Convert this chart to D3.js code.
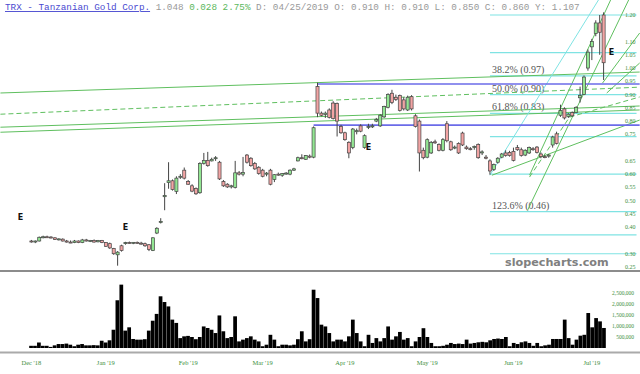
<!DOCTYPE html>
<html lang="en">
<head>
<meta charset="UTF-8">
<title>TRX - Tanzanian Gold Corp.</title>
<script src="https://d3js.org/d3.v7.min.js"></script>
<style>
  body { margin: 0; background: #fff; }
  svg { display: block; }
</style>
</head>
<body>
<svg></svg>
<script>
const width = 640, height = 374;

// trading day index: 0 = Dec 3 2018 ... 146 = Jul 5 2019
const monthLabels = ["Dec '18", "Jan '19", "Feb '19", "Mar '19", "Apr '19", "May '19", "Jun '19", "Jul '19"];
const monthIndex = [0, 19, 40, 59, 80, 101, 123, 143];

const opens = [.348,.345,.348,.362,.364,.363,.360,.354,.355,.348,.344,.342,.348,.342,.352,.348,.350,.345,.350,
  .342,.338,.320,.296,.330,.338,.342,.340,.343,.340,.338,.334,.312,.378,.420,.515,.568,.575,.535,.590,.615,
  .572,.556,.546,.530,.640,.652,.650,.660,.645,.572,.562,.552,.550,.605,.600,.672,.660,.640,.626,
  .615,.600,.615,.580,.600,.596,.602,.600,.615,.650,.662,.656,.668,.664,.930,.830,.825,.842,.868,.866,.780,
  .756,.720,.700,.760,.782,.700,.776,.780,.800,.782,.816,.852,.905,.890,.896,.880,.842,.892,.820,.800,.690,
  .664,.680,.722,.712,.690,.790,.722,.700,.716,.755,.702,.696,.700,.712,.680,.664,.650,.618,.645,.664,.680,.682,
  .686,.700,.692,.672,.680,.696,.702,.676,.666,.668,.710,.752,.822,.846,.818,.832,.832,.888,
  .900,1.00,1.08,1.13,1.17,1.20];
const highs = [.352,.350,.365,.368,.368,.366,.362,.358,.358,.352,.350,.352,.350,.356,.356,.352,.354,.352,.352,
  .344,.342,.322,.310,.334,.345,.346,.344,.346,.345,.342,.336,.362,.400,.434,.566,.645,.580,.592,.600,.625,
  .578,.562,.550,.645,.680,.684,.662,.668,.650,.578,.566,.560,.650,.612,.665,.676,.664,.646,.630,
  .620,.608,.620,.600,.606,.604,.608,.618,.624,.666,.675,.672,.674,.780,.945,.836,.836,.848,.875,.870,.786,
  .760,.724,.774,.772,.788,.750,.790,.790,.812,.826,.858,.905,.918,.900,.900,.890,.896,.898,.826,.806,.700,
  .735,.725,.730,.716,.736,.800,.726,.708,.720,.760,.708,.702,.708,.716,.690,.672,.656,.640,.664,.680,.690,.688,
  .700,.710,.700,.694,.704,.702,.706,.682,.672,.676,.745,.760,.862,.852,.830,.836,.856,.930,
  .972,1.07,1.11,1.18,1.20,1.21];
const lows = [.342,.340,.346,.358,.360,.358,.352,.350,.346,.342,.340,.340,.340,.340,.346,.344,.342,.343,.340,
  .326,.318,.296,.255,.308,.334,.338,.336,.338,.334,.326,.310,.310,.374,.414,.464,.545,.538,.525,.582,.580,
  .560,.532,.522,.526,.636,.628,.648,.650,.578,.552,.548,.546,.546,.595,.592,.640,.628,.616,.598,
  .588,.592,.558,.570,.594,.590,.598,.596,.612,.648,.656,.654,.660,.660,.815,.818,.812,.810,.806,.742,.752,
  .726,.660,.694,.750,.758,.696,.770,.774,.796,.778,.812,.848,.864,.876,.836,.840,.838,.840,.776,.610,.656,
  .660,.676,.714,.686,.686,.720,.688,.694,.676,.706,.692,.690,.692,.658,.672,.656,.598,.612,.640,.660,.666,.666,
  .648,.688,.666,.668,.676,.688,.678,.660,.660,.662,.700,.712,.816,.806,.812,.816,.830,.870,
  .898,.990,1.03,1.12,1.05,.955];
const closes = [.346,.348,.362,.364,.362,.360,.354,.356,.348,.344,.342,.348,.342,.352,.348,.350,.344,.350,.342,
  .328,.322,.300,.306,.312,.342,.340,.343,.340,.338,.330,.316,.360,.396,.422,.520,.575,.542,.585,.592,.585,
  .562,.536,.526,.640,.652,.632,.656,.662,.582,.556,.552,.556,.605,.600,.606,.645,.632,.620,.602,
  .592,.604,.562,.598,.598,.602,.604,.615,.620,.662,.660,.670,.664,.775,.830,.822,.830,.814,.810,.800,.756,
  .730,.680,.770,.764,.762,.745,.780,.782,.806,.822,.855,.900,.870,.882,.840,.846,.890,.846,.780,.680,.662,
  .730,.720,.718,.690,.730,.726,.692,.702,.680,.710,.696,.694,.704,.662,.684,.660,.612,.636,.660,.676,.670,.670,
  .652,.692,.670,.690,.700,.694,.682,.666,.664,.672,.740,.716,.840,.812,.826,.820,.852,.896,
  .966,1.06,1.10,1.17,1.135,1.02];
// volume, millions of shares
const volumes = [.10,.10,.25,.10,.10,.05,.12,.18,.18,.20,.15,.08,.15,.18,.12,.12,.13,.12,.33,
  .25,.35,.83,2.17,2.88,.79,.94,.41,.38,.38,.40,.79,1.24,1.55,2.35,2.09,1.89,1.29,1.14,.45,.53,
  .55,.50,.40,.50,.98,.91,.83,.68,1.48,.76,.45,.50,1.44,.30,.38,.45,.53,.38,.30,
  .08,.15,.60,.38,.08,.15,.15,.12,.15,.40,.76,.30,.40,2.65,2.27,1.06,.98,.68,.30,.38,.38,
  .30,.53,1.29,.68,.30,.08,.60,.23,.45,.30,.45,.98,.38,.53,.73,.38,.45,.08,.30,.50,.90,
  .50,.23,.08,.08,.10,.15,.23,.18,.20,.18,.38,.20,.23,.26,.28,.26,.35,.41,.43,.41,.50,.08,
  .23,.18,.26,.30,.23,.10,.23,.08,.12,.15,.41,.41,.41,1.29,.45,.15,.38,.56,.60,
  1.59,.94,1.36,1.21,.91,1.47];

const priceTicks = [1.20, 1.10, 1.05, 1.00, 0.95, 0.90, 0.85, 0.80, 0.75, 0.65, 0.60, 0.55, 0.50, 0.45, 0.40, 0.30, 0.25];
const volumeTicks = [0.5, 1.0, 1.5, 2.0, 2.5];

// fibonacci retracement from the June low to the July high
const fibLow = 0.60, fibHigh = 1.20, fibStart = 117, fibEnd = 154.4;
const fibLevels = [0, 0.236, 0.382, 0.5, 0.618, 0.764, 1, 1.236, 1.382, 1.5];
const fibLabeled = [0.382, 0.5, 0.618, 1.236];

// hand drawn lines: [index1, price1, index2, price2, style]
const trendLines = [
  [-7.9, 0.906, 155.2, 0.985, "green"],
  [-7.9, 0.777, 155.2, 0.857, "green"],
  [-7.9, 0.758, 155.2, 0.842, "green"],
  [-7.9, 0.826, 155.2, 0.928, "dash"],
  [117.5, 0.596, 155.2, 0.804, "green"],
  [117, 0.596, 145, 1.264, "cyan"],
  [127.1, 0.596, 147.8, 1.257, "green"],
  [126.6, 0.464, 152.4, 1.257, "green"],
  [127.1, 0.589, 137.8, 0.826, "dash"],
  [137.3, 0.815, 155.2, 0.891, "dash"],
  [145.7, 0.943, 155.2, 1.132, "green"],
  [146.8, 0.906, 155.2, 1.019, "green"],
  [73, 0.94, 155.2, 0.94, "blue"],
  [72, 0.785, 155.2, 0.785, "blue"]
];

const earnings = [[-2.8, 0.426], [24, 0.389], [86, 0.69], [148, 1.05]];

const n = closes.length;
const svg = d3.select("svg").attr("width", width).attr("height", height)
  .attr("viewBox", [0, 0, width, height]);

const x = d3.scaleBand().domain(d3.range(n)).range([29, 606]).padding(0.22);
const xl = d3.scaleLinear().domain([0, n - 1]).range([x(0) + x.bandwidth() / 2, x(n - 1) + x.bandwidth() / 2]);
const y = d3.scaleLinear().domain([0.25, 1.20]).range([267, 15]);
const yv = d3.scaleLinear().domain([0, 2.5]).range([348, 293]);

svg.append("defs").append("clipPath").attr("id", "main")
  .append("rect").attr("x", 0).attr("y", 0).attr("width", width).attr("height", 271);

const green = "#5fbf5f", cyan = "#7fe3e3", blue = "#6b6be8";

// fib lines
const fib = svg.append("g").attr("clip-path", "url(#main)");
fib.selectAll("line").data(fibLevels).join("line")
  .attr("x1", xl(fibStart)).attr("x2", xl(fibEnd))
  .attr("y1", d => y(fibHigh - d * (fibHigh - fibLow)))
  .attr("y2", d => y(fibHigh - d * (fibHigh - fibLow)))
  .attr("stroke", cyan).attr("stroke-width", 1.2);
fib.selectAll("text").data(fibLabeled).join("text")
  .attr("x", xl(fibStart) + 2)
  .attr("y", d => y(fibHigh - d * (fibHigh - fibLow)) - 3)
  .attr("font-family", "'Liberation Serif', serif").attr("font-size", 10).attr("fill", "#555")
  .text(d => `${(d * 100).toFixed(1)}% (${(fibHigh - d * (fibHigh - fibLow)).toFixed(2)})`);

// trend lines
svg.append("g").attr("clip-path", "url(#main)")
  .selectAll("line").data(trendLines).join("line")
  .attr("x1", d => xl(d[0])).attr("y1", d => y(d[1]))
  .attr("x2", d => xl(d[2])).attr("y2", d => y(d[3]))
  .attr("stroke", d => d[4] === "cyan" ? cyan : d[4] === "blue" ? blue : green)
  .attr("stroke-width", d => d[4] === "blue" ? 1.6 : 1)
  .attr("stroke-dasharray", d => d[4] === "dash" ? "5,3" : null);

// candles
const candles = svg.append("g");
const idx = d3.range(n);
candles.selectAll("line").data(idx).join("line")
  .attr("x1", i => x(i) + x.bandwidth() / 2).attr("x2", i => x(i) + x.bandwidth() / 2)
  .attr("y1", i => y(highs[i])).attr("y2", i => y(lows[i]))
  .attr("stroke", "#444").attr("stroke-width", 1);
candles.selectAll("rect").data(idx).join("rect")
  .attr("x", i => x(i)).attr("width", x.bandwidth())
  .attr("y", i => y(Math.max(opens[i], closes[i])))
  .attr("height", i => Math.max(1, Math.abs(y(opens[i]) - y(closes[i]))))
  .attr("fill", i => closes[i] >= opens[i] ? "#92e692" : "#f2a4a4")
  .attr("stroke", "#444").attr("stroke-width", 0.7);

// earnings markers
svg.append("g").selectAll("text").data(earnings).join("text")
  .attr("x", d => xl(d[0])).attr("y", d => y(d[1]))
  .attr("text-anchor", "middle")
  .attr("font-family", "'DejaVu Sans', sans-serif").attr("font-weight", "bold")
  .attr("font-size", 8).attr("fill", "#111").text("E");

// price axis labels
svg.append("g").selectAll("text").data(priceTicks).join("text")
  .attr("x", 625).attr("y", d => y(d) + 2)
  .attr("font-family", "'Liberation Serif', serif").attr("font-size", 6)
  .attr("fill", "#3d8f3d").text(d => d.toFixed(2));

// watermark
svg.append("text").attr("x", 505).attr("y", 266)
  .attr("font-family", "'DejaVu Sans', sans-serif").attr("font-weight", "bold")
  .attr("font-size", 11.2).attr("fill", "#808080").text("slopecharts.com");

// panel separators
svg.append("line").attr("x1", 0).attr("x2", width).attr("y1", 271).attr("y2", 271)
  .attr("stroke", "#666").attr("stroke-width", 1.5);
svg.append("line").attr("x1", 0).attr("x2", width).attr("y1", 352.5).attr("y2", 352.5)
  .attr("stroke", "#aaa").attr("stroke-width", 2);

// volume
const xv = d3.scaleBand().domain(d3.range(n)).range([29, 606]).padding(0.05);
svg.append("g").selectAll("rect").data(idx).join("rect")
  .attr("x", i => xv(i)).attr("width", xv.bandwidth())
  .attr("y", i => yv(volumes[i])).attr("height", i => yv(0) - yv(volumes[i]))
  .attr("fill", "#000");

svg.append("g").selectAll("text").data(volumeTicks).join("text")
  .attr("x", 634).attr("y", d => yv(d) + 2).attr("text-anchor", "end")
  .attr("font-family", "'Liberation Serif', serif").attr("font-size", 5.5)
  .attr("fill", "#3d8f3d").text(d => d3.format(",")(d * 1e6));

// month labels
svg.append("g").selectAll("text").data(monthIndex).join("text")
  .attr("x", i => xl(i)).attr("y", 365).attr("text-anchor", "middle")
  .attr("font-family", "'Liberation Serif', serif").attr("font-size", 6.5)
  .attr("fill", "#3d8f3d").text((d, k) => monthLabels[k]);

// header
const head = svg.append("text").attr("x", 5).attr("y", 10)
  .attr("font-family", "'Liberation Mono', monospace").attr("font-size", 9.3).attr("xml:space", "preserve");
head.append("tspan").attr("fill", "#4a4ad0").attr("text-decoration", "underline").text("TRX - Tanzanian Gold Corp.");
head.append("tspan").attr("fill", "#999").text(" 1.048 ");
head.append("tspan").attr("fill", "#5cb85c").text("0.028 2.75%");
head.append("tspan").attr("fill", "#999").text(" D: 04/25/2019 O: 0.910 H: 0.910 L: 0.850 C: 0.860 Y: 1.107");
</script>
</body>
</html>
